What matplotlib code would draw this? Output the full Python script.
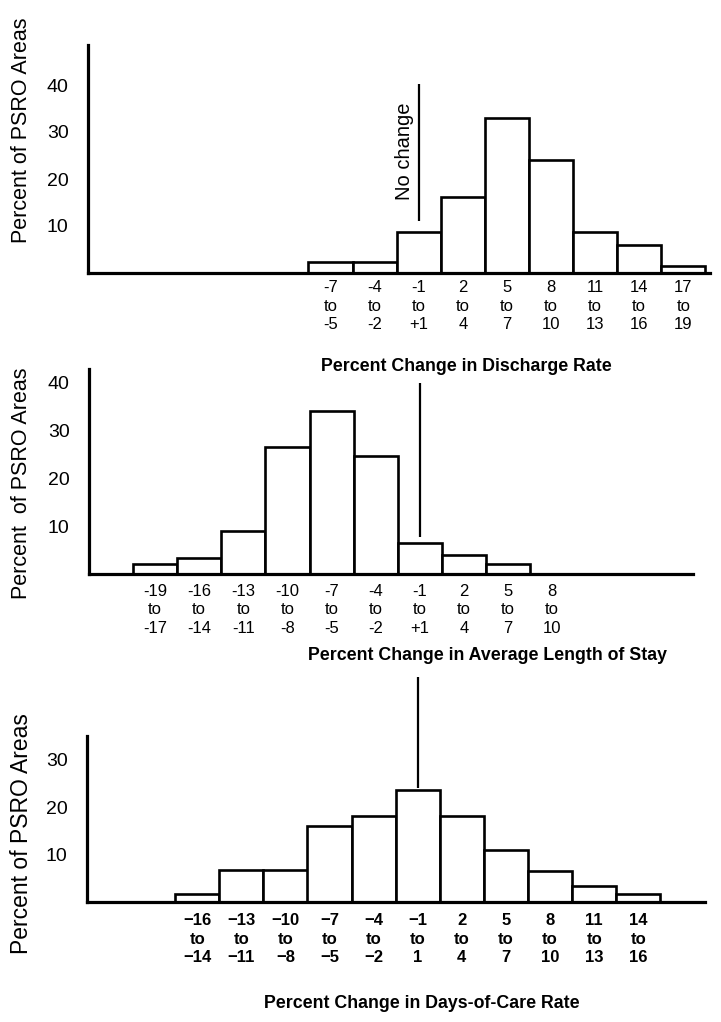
import matplotlib
matplotlib.use("Agg")
import matplotlib.pyplot as plt
import numpy as np

# ---------------- data ----------------
p1_starts = [-7, -4, -1, 2, 5, 8, 11, 14, 17]
p1_labels = ["-7\nto\n-5", "-4\nto\n-2", "-1\nto\n+1", "2\nto\n4", "5\nto\n7",
             "8\nto\n10", "11\nto\n13", "14\nto\n16", "17\nto\n19"]
p1_values = [2.3, 2.4, 8.7, 16.1, 33.0, 24.0, 8.8, 5.9, 1.5]

p2_starts = [-19, -16, -13, -10, -7, -4, -1, 2, 5, 8]
p2_labels = ["-19\nto\n-17", "-16\nto\n-14", "-13\nto\n-11", "-10\nto\n-8", "-7\nto\n-5",
             "-4\nto\n-2", "-1\nto\n+1", "2\nto\n4", "5\nto\n7", "8\nto\n10"]
p2_values = [2.0, 3.3, 9.0, 26.5, 34.0, 24.5, 6.4, 4.0, 2.0, 0.0]

p3_starts = [-16, -13, -10, -7, -4, -1, 2, 5, 8, 11, 14]
p3_labels = ["\u221216\nto\n\u221214", "\u221213\nto\n\u221211", "\u221210\nto\n\u22128",
             "\u22127\nto\n\u22125", "\u22124\nto\n\u22122", "\u22121\nto\n1", "2\nto\n4",
             "5\nto\n7", "8\nto\n10", "11\nto\n13", "14\nto\n16"]
p3_values = [1.75, 6.8, 6.8, 15.9, 18.2, 23.5, 18.2, 11.0, 6.6, 3.3, 1.7]

p1_yticks = [10, 20, 30, 40]
p2_yticks = [10, 20, 30, 40]
p3_yticks = [10, 20, 30]

titles = ["Percent Change in Discharge Rate",
          "Percent Change in Average Length of Stay",
          "Percent Change in Days-of-Care Rate"]
ylabel = "Percent of PSRO Areas"

# ---------------- layout ----------------
W, H = 721, 1022
fig = plt.figure(figsize=(W / 100, H / 100), dpi=100)
fig.patch.set_facecolor("white")

XMIN = -22.5
PPU_X = 14.7
BIN_W = 3

FONT = ["Liberation Sans", "DejaVu Sans"]
NARROW = ["Liberation Sans Narrow", "Liberation Sans", "DejaVu Sans"]


def make_axes(left_px, base_px, top_px, right_px, ymax):
    ax = fig.add_axes([left_px / W, 1 - base_px / H,
                       (right_px - left_px) / W, (base_px - top_px) / H])
    ax.set_xlim(XMIN, XMIN + (right_px - left_px) / PPU_X)
    ax.set_ylim(0, ymax)
    for s in ["top", "right"]:
        ax.spines[s].set_visible(False)
    for s in ["left", "bottom"]:
        ax.spines[s].set_linewidth(2.3)
        ax.spines[s].set_capstyle("projecting")
    ax.set_facecolor("none")
    return ax


def draw(ax, starts, values, labels, yticks, pad_x, lab_font, lab_weight, lab_size):
    centers = np.array(starts) + 1
    ax.bar(centers, values, width=BIN_W, color="white", edgecolor="black",
           linewidth=1.9, zorder=2)
    ax.set_xticks(centers)
    ax.set_xticklabels(labels, family=lab_font, fontweight=lab_weight,
                       fontsize=lab_size, linespacing=1.3)
    ax.tick_params(axis="x", length=0, pad=pad_x)
    ax.set_yticks(yticks)
    ax.set_yticklabels([str(t) for t in yticks], family=FONT, fontsize=14)
    ax.tick_params(axis="y", length=0, pad=14)


# Panel 1
ax1 = make_axes(88, 273, 45, 710, (273 - 45) / 4.7)
draw(ax1, p1_starts, p1_values, p1_labels, p1_yticks, 5.0, FONT, "normal", 12)
ax1.plot([0, 0], [11.1, 40.2], color="black", lw=1.6, solid_capstyle="butt")
ax1.text(-1.0, 25.8, "No change", rotation=90, ha="center", va="center",
         family=FONT, fontsize=14.5)

# Panel 2
ax2 = make_axes(89, 574, 369, 693, (574 - 369) / 4.8)
draw(ax2, p2_starts, p2_values, p2_labels, p2_yticks, 7.0, FONT, "normal", 12)
ax2.plot([0, 0], [7.7, 39.8], color="black", lw=1.6, solid_capstyle="butt",
         clip_on=False)

# Panel 3
ax3 = make_axes(87, 902, 736, 705, (902 - 736) / 4.75)
draw(ax3, p3_starts, p3_values, p3_labels, p3_yticks, 8.0, NARROW, "bold", 12)
ax3.plot([0, 0], [24.0, 47.4], color="black", lw=1.6, solid_capstyle="butt",
         clip_on=False)

# Titles (x-axis captions)
fig.text(466 / W, 1 - 366 / H, titles[0], ha="center", va="center",
         family=FONT, fontweight="bold", fontsize=12.8)
fig.text(488 / W, 1 - 655 / H, titles[1], ha="center", va="center",
         family=FONT, fontweight="bold", fontsize=12.8)
fig.text(422 / W, 1 - 1003 / H, titles[2], ha="center", va="center",
         family=FONT, fontweight="bold", fontsize=12.8)

# y labels
fig.text(22 / W, 1 - 130 / H, ylabel, rotation=90, ha="center", va="center",
         family=FONT, fontsize=15.5)
fig.text(22 / W, 1 - 483 / H, "Percent  of PSRO Areas", rotation=90, ha="center",
         va="center", family=FONT, fontsize=15.5)
fig.text(22 / W, 1 - 834 / H, ylabel, rotation=90, ha="center", va="center",
         family=FONT, fontsize=16.5)

fig.savefig("out.png", dpi=100, facecolor="white")
